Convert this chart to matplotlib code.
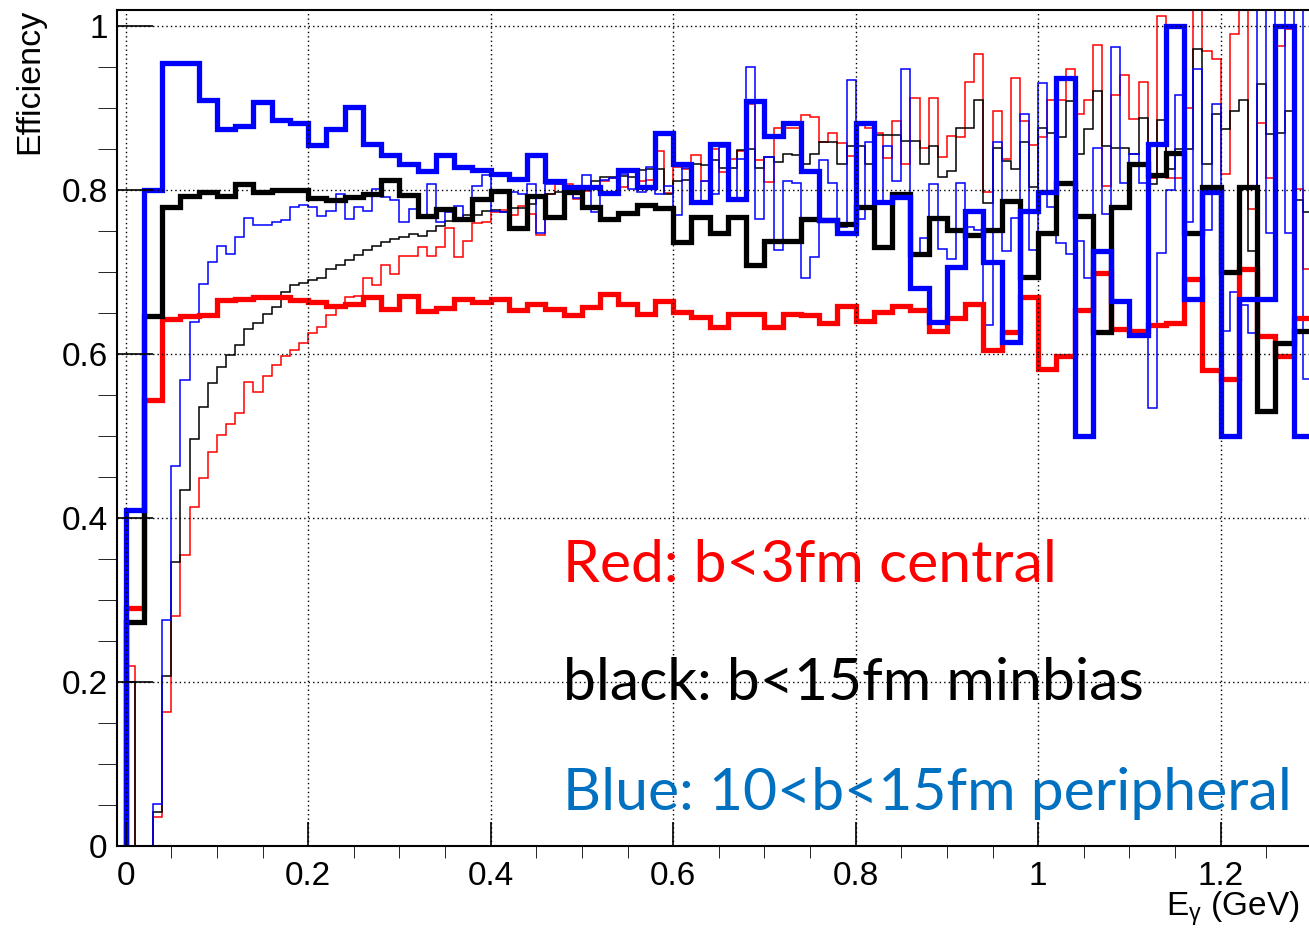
import matplotlib
matplotlib.use('Agg')
import numpy as np
import matplotlib.pyplot as plt
from matplotlib.ticker import MultipleLocator, FuncFormatter

plt.rcParams['font.family'] = ['Liberation Sans', 'DejaVu Sans']
plt.rcParams['mathtext.default'] = 'regular'

# bin edges (GeV): wide binning 0.02, fine binning 0.01
edges_wide = np.linspace(0, 1.3, 66)
edges_fine = np.linspace(0, 1.3, 131)

# thick histograms (0.02 GeV bins)
blue_thick = [0.41, 0.80, 0.955, 0.955, 0.91, 0.874, 0.878, 0.907, 0.885, 0.881,
              0.855, 0.874, 0.901, 0.856, 0.843, 0.832, 0.823, 0.843, 0.828, 0.824,
              0.820, 0.813, 0.842, 0.811, 0.804, 0.804, 0.796, 0.824, 0.803, 0.870,
              0.832, 0.785, 0.856, 0.789, 0.909, 0.866, 0.882, 0.823, 0.763, 0.748,
              0.882, 0.785, 0.791, 0.681, 0.639, 0.706, 0.774, 0.712, 0.615, 0.774,
              0.797, 0.936, 0.50, 0.725, 0.664, 0.623, 0.856, 1.0, 0.667, 0.797,
              0.50, 0.667, 0.667, 1.0, 0.50]
black_thick = [0.273, 0.646, 0.779, 0.793, 0.798, 0.793, 0.807, 0.797, 0.80, 0.80,
               0.790, 0.788, 0.791, 0.795, 0.812, 0.794, 0.768, 0.777, 0.765, 0.789,
               0.799, 0.754, 0.793, 0.767, 0.797, 0.779, 0.764, 0.772, 0.782, 0.778,
               0.736, 0.767, 0.747, 0.767, 0.708, 0.738, 0.738, 0.765, 0.763, 0.758,
               0.779, 0.731, 0.795, 0.722, 0.766, 0.751, 0.745, 0.751, 0.787, 0.694,
               0.747, 0.809, 0.768, 0.627, 0.779, 0.832, 0.818, 0.845, 0.747, 0.803,
               0.700, 0.804, 0.530, 0.613, 0.628]
red_thick = [0.29, 0.544, 0.643, 0.646, 0.647, 0.666, 0.667, 0.669, 0.670, 0.666,
             0.663, 0.659, 0.661, 0.670, 0.655, 0.671, 0.652, 0.656, 0.667, 0.663,
             0.667, 0.653, 0.661, 0.655, 0.648, 0.657, 0.673, 0.661, 0.649, 0.665,
             0.651, 0.645, 0.633, 0.649, 0.649, 0.633, 0.649, 0.647, 0.638, 0.658,
             0.640, 0.651, 0.659, 0.654, 0.628, 0.644, 0.661, 0.605, 0.627, 0.670,
             0.582, 0.597, 0.653, 0.699, 0.631, 0.628, 0.635, 0.638, 0.691, 0.581,
             0.570, 0.703, 0.622, 0.597, 0.644]

# thin histograms (0.01 GeV bins)
red_thin = [0.219, 0.0, 0.0, 0.035, 0.163, 0.280, 0.355, 0.413, 0.449, 0.480,
            0.501, 0.515, 0.528, 0.566, 0.554, 0.573, 0.586, 0.597, 0.605, 0.613,
            0.626, 0.633, 0.647, 0.659, 0.670, 0.671, 0.692, 0.684, 0.709, 0.697,
            0.719, 0.719, 0.730, 0.720, 0.731, 0.753, 0.718, 0.738, 0.760, 0.761,
            0.773, 0.776, 0.769, 0.781, 0.771, 0.745, 0.795, 0.807, 0.807, 0.789,
            0.799, 0.805, 0.811, 0.815, 0.804, 0.822, 0.811, 0.812, 0.847, 0.796,
            0.828, 0.826, 0.842, 0.811, 0.850, 0.822, 0.838, 0.848, 0.905, 0.836,
            0.810, 0.876, 0.876, 0.876, 0.891, 0.889, 0.858, 0.870, 0.857, 0.841,
            0.880, 0.875, 0.870, 0.839, 0.884, 0.832, 0.912, 0.851, 0.912, 0.840,
            0.866, 0.864, 0.932, 0.966, 0.798, 0.896, 0.838, 0.936, 0.884, 0.855,
            0.864, 0.910, 0.910, 0.947, 0.892, 0.910, 0.977, 0.805, 0.916, 0.940,
            0.886, 0.932, 0.815, 1.012, 0.815, 0.815, 0.900, 1.10, 0.970, 0.960,
            0.819, 0.990, 1.10, 0.777, 0.882, 0.815, 0.975, 0.996, 0.801, 0.703]
black_thin = [0.20, 0.0, 0.0, 0.041, 0.207, 0.346, 0.434, 0.496, 0.535, 0.565,
              0.584, 0.599, 0.611, 0.631, 0.638, 0.649, 0.657, 0.676, 0.684, 0.686,
              0.690, 0.693, 0.703, 0.708, 0.714, 0.721, 0.727, 0.732, 0.736, 0.740,
              0.742, 0.746, 0.744, 0.750, 0.756, 0.762, 0.766, 0.770, 0.770, 0.774,
              0.776, 0.773, 0.778, 0.778, 0.783, 0.792, 0.795, 0.797, 0.795, 0.802,
              0.800, 0.811, 0.816, 0.816, 0.817, 0.816, 0.824, 0.826, 0.825, 0.795,
              0.811, 0.812, 0.832, 0.830, 0.836, 0.827, 0.827, 0.849, 0.850, 0.827,
              0.840, 0.834, 0.844, 0.842, 0.832, 0.844, 0.858, 0.858, 0.831, 0.853,
              0.853, 0.832, 0.867, 0.867, 0.867, 0.860, 0.860, 0.832, 0.854, 0.816,
              0.823, 0.876, 0.876, 0.910, 0.784, 0.851, 0.835, 0.826, 0.858, 0.803,
              0.876, 0.870, 0.864, 0.909, 0.844, 0.874, 0.921, 0.853, 0.851, 0.851,
              0.844, 0.888, 0.807, 0.885, 0.825, 0.850, 0.850, 0.972, 0.832, 0.893,
              0.874, 0.896, 0.910, 0.725, 0.929, 0.868, 0.870, 0.896, 0.788, 0.773]
blue_thin = [0.0, 0.0, 0.0, 0.051, 0.276, 0.463, 0.568, 0.639, 0.685, 0.712,
             0.732, 0.722, 0.743, 0.766, 0.757, 0.757, 0.761, 0.763, 0.779, 0.782,
             0.779, 0.768, 0.774, 0.795, 0.764, 0.779, 0.774, 0.801, 0.791, 0.788,
             0.761, 0.777, 0.768, 0.807, 0.761, 0.773, 0.781, 0.765, 0.805, 0.818,
             0.774, 0.773, 0.797, 0.795, 0.807, 0.747, 0.807, 0.807, 0.795, 0.790,
             0.818, 0.773, 0.812, 0.814, 0.820, 0.801, 0.797, 0.828, 0.795, 0.805,
             0.769, 0.827, 0.783, 0.811, 0.795, 0.852, 0.789, 0.838, 0.950, 0.765,
             0.840, 0.727, 0.811, 0.809, 0.692, 0.718, 0.837, 0.809, 0.755, 0.934,
             0.765, 0.859, 0.785, 0.853, 0.811, 0.947, 0.722, 0.741, 0.807, 0.728,
             0.716, 0.808, 0.755, 0.751, 0.635, 0.858, 0.726, 0.766, 0.892, 0.727,
             0.930, 0.779, 0.735, 0.722, 0.738, 0.692, 0.851, 0.771, 0.974, 0.809,
             0.844, 0.809, 0.534, 0.723, 0.800, 0.916, 0.761, 0.947, 0.751, 0.905,
             0.628, 0.676, 0.660, 0.626, 1.10, 0.748, 1.10, 0.748, 1.10, 0.570]

W, H = 1309, 931
fig = plt.figure(figsize=(W / 100, H / 100), dpi=100)
ax = fig.add_axes([117.3 / W, (H - 846) / H, (W - 117.3) / W, (846 - 9.5) / H])

ax.stairs(red_thin, edges_fine, baseline=0, color='#ff0000', lw=1.1)
ax.stairs(black_thin, edges_fine, baseline=0, color='black', lw=1.1)
ax.stairs(blue_thin, edges_fine, baseline=0, color='#0000ff', lw=1.1)
ax.stairs(red_thick, edges_wide, baseline=0, color='#ff0000', lw=3.8)
ax.stairs(black_thick, edges_wide, baseline=0, color='black', lw=3.8)
ax.stairs(blue_thick, edges_wide, baseline=0, color='#0000ff', lw=3.8)

ax.set_xlim(-0.0092, 1.2968)
ax.set_ylim(0, 1.02)
ax.spines['right'].set_visible(False)
for s in ['left', 'bottom', 'top']:
    ax.spines[s].set_linewidth(1.5)

ax.xaxis.set_major_locator(MultipleLocator(0.2))
ax.xaxis.set_minor_locator(MultipleLocator(0.05))
ax.yaxis.set_major_locator(MultipleLocator(0.2))
ax.yaxis.set_minor_locator(MultipleLocator(0.05))
fmt = FuncFormatter(lambda v, p: '%g' % round(v, 2))
ax.xaxis.set_major_formatter(fmt)
ax.yaxis.set_major_formatter(fmt)
ax.tick_params(direction='in', top=False, right=False, labelsize=24, width=1.2)
ax.tick_params(axis='x', which='major', length=17, pad=11)
ax.tick_params(axis='x', which='minor', length=8.5)
ax.tick_params(axis='y', which='major', length=26, pad=7)
ax.tick_params(axis='y', which='minor', length=13.5)
ax.grid(True, which='major', color='black', linestyle=(0, (1, 2.2)), linewidth=1.0)
ax.set_axisbelow(False)

fig.text(30 / W, 1 - 9 / H, 'Efficiency', rotation=90, ha='center', va='top', fontsize=24.5)
fig.text(1299 / W, 1 - 916 / H, r'E$_{\gamma}$ (GeV)', ha='right', va='baseline', fontsize=24)

notes = [('Red: b<3fm central', '#ff0000', 582, 492),
         ('black: b<15fm minbias', 'black', 700, 585),
         ('Blue: 10<b<15fm peripheral', '#0070c0', 810, 727)]
texts = []
for label, col, base, target in notes:
    t = fig.text(563 / W, 1 - base / H, label, color=col, fontsize=40,
                 family=['Lato', 'DejaVu Sans'], ha='left', va='baseline')
    texts.append((t, target))

# scale the annotation font so the line widths match the picture
fig.canvas.draw()
r = fig.canvas.get_renderer()
ratio = np.mean([tg / t.get_window_extent(r).width for t, tg in texts])
for t, tg in texts:
    t.set_fontsize(40 * ratio)

fig.savefig('out.png', dpi=100)
